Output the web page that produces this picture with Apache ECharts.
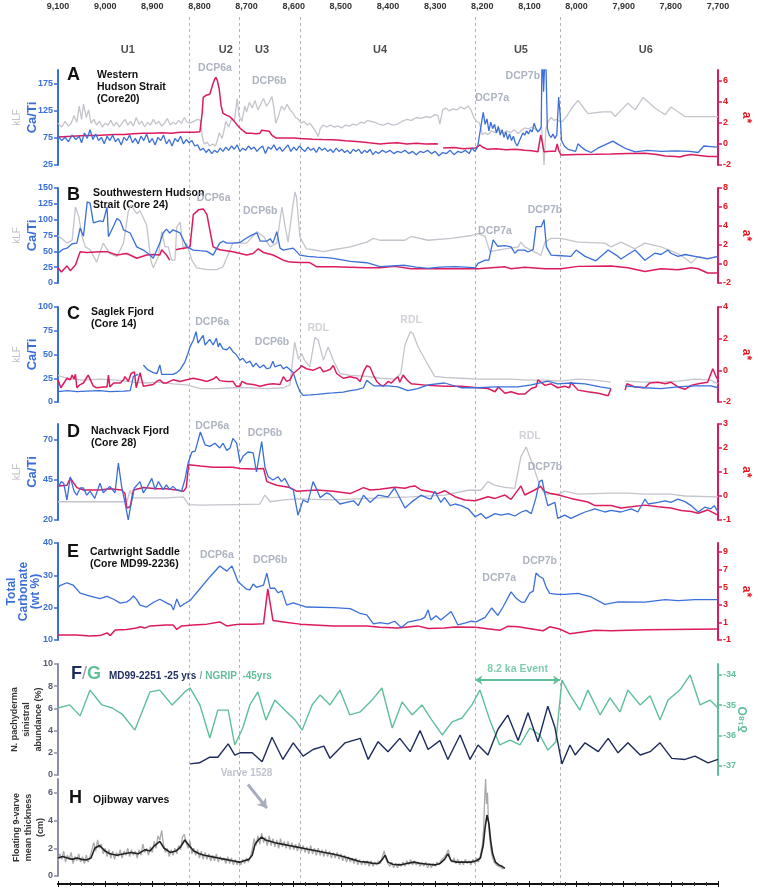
<!DOCTYPE html>
<html lang="en">
<head>
<meta charset="utf-8">
<title>Holocene records</title>
<script src="https://cdn.jsdelivr.net/npm/echarts@6/dist/echarts.min.js"></script>
<style>
  html, body { margin: 0; padding: 0; background: #fff; }
  #main { width: 758px; height: 890px; }
</style>
</head>
<body>
<div id="main"></div>
<script>
// ---- data (years BP on x) ----
const yearTicks = [9100, 9000, 8900, 8800, 8700, 8600, 8500, 8400, 8300, 8200, 8100, 8000, 7900, 7800, 7700];
const boundaries = [8822, 8716, 8587, 8215, 8035];
const unitLabels = [['U1', 8952], ['U2', 8744], ['U3', 8667], ['U4', 8417], ['U5', 8118], ['U6', 7853]];

// A: Western Hudson Strait (Core20)
const aCaTi = [[9100,78],[9092,70],[9085,76],[9078,68],[9070,80],[9062,72],[9055,78],[9050,66],[9044,84],[9038,74],[9032,90],[9026,72],[9020,82],[9014,70],[9008,76],[9002,64],[8996,78],[8990,70],[8984,80],[8978,68],[8972,74],[8966,62],[8960,76],[8954,70],[8948,80],[8942,66],[8936,74],[8930,64],[8924,78],[8918,70],[8912,82],[8906,66],[8900,74],[8894,62],[8888,76],[8882,70],[8876,80],[8870,64],[8864,72],[8858,60],[8852,74],[8846,68],[8840,78],[8834,64],[8828,72],[8822,66],[8816,70],[8810,60],[8804,62],[8798,52],[8792,56],[8786,48],[8780,54],[8774,46],[8768,52],[8762,48],[8756,56],[8750,50],[8744,58],[8738,52],[8732,60],[8726,54],[8720,62],[8714,50],[8708,56],[8702,52],[8696,60],[8690,54],[8684,58],[8678,50],[8672,56],[8666,60],[8660,46],[8654,58],[8648,54],[8642,62],[8636,52],[8630,58],[8624,50],[8618,56],[8612,62],[8606,50],[8600,58],[8594,52],[8588,60],[8582,54],[8576,50],[8570,58],[8564,52],[8558,56],[8552,48],[8546,58],[8540,52],[8534,56],[8528,50],[8522,54],[8516,48],[8510,56],[8504,50],[8498,54],[8492,48],[8486,52],[8480,46],[8474,54],[8468,50],[8462,54],[8456,46],[8450,52],[8444,48],[8438,54],[8432,44],[8426,50],[8420,46],[8412,52],[8404,48],[8396,52],[8388,46],[8380,50],[8372,48],[8364,52],[8356,46],[8348,50],[8340,44],[8332,50],[8324,48],[8316,52],[8308,46],[8300,50],[8292,42],[8284,48],[8276,46],[8268,52],[8260,44],[8252,50],[8244,48],[8236,52],[8228,46],[8222,56],[8216,50],[8210,58],[8204,90],[8198,122],[8194,100],[8190,110],[8186,88],[8182,104],[8178,92],[8174,100],[8170,84],[8166,96],[8162,80],[8158,90],[8154,76],[8150,86],[8146,72],[8142,82],[8138,70],[8134,78],[8130,66],[8126,60],[8122,58],[8118,76],[8114,84],[8110,80],[8106,88],[8102,82],[8098,90],[8094,86],[8090,102],[8086,92],[8082,86],[8078,90],[8075,96],[8073,250],[8070,160],[8066,250],[8062,92],[8058,80],[8054,76],[8050,82],[8046,74],[8042,80],[8038,150],[8035,120],[8032,70],[8026,60],[8018,54],[8010,52],[8002,50],[7997,64],[7990,58],[7980,52],[7969,48],[7955,56],[7940,62],[7923,69],[7910,62],[7895,55],[7876,49],[7850,52],[7820,50],[7790,51],[7760,50],[7742,48],[7730,60],[7715,59],[7700,58]];
const aKlf = [[9100,44],[9092,40],[9085,46],[9078,41],[9072,44],[9066,52],[9060,45],[9055,62],[9050,48],[9046,64],[9040,50],[9035,58],[9030,44],[9024,48],[9018,42],[9012,46],[9006,40],[9000,44],[8994,42],[8988,47],[8982,41],[8976,45],[8970,40],[8964,44],[8958,48],[8952,42],[8946,46],[8940,41],[8934,50],[8928,43],[8922,46],[8916,40],[8910,45],[8904,42],[8898,48],[8892,43],[8886,46],[8880,41],[8874,44],[8868,49],[8862,42],[8856,45],[8850,43],[8844,47],[8838,44],[8832,50],[8826,45],[8820,44],[8812,46],[8804,48],[8798,47],[8794,30],[8790,22],[8784,24],[8778,20],[8772,22],[8766,20],[8762,26],[8758,34],[8752,28],[8748,36],[8744,46],[8738,40],[8732,48],[8726,46],[8720,70],[8716,52],[8710,46],[8704,62],[8700,56],[8694,66],[8688,60],[8682,68],[8676,58],[8670,64],[8664,70],[8658,62],[8652,66],[8646,72],[8642,60],[8638,44],[8632,52],[8626,62],[8620,58],[8614,64],[8608,58],[8602,55],[8596,50],[8590,48],[8584,44],[8578,46],[8572,42],[8566,44],[8560,40],[8554,36],[8548,30],[8544,38],[8538,42],[8530,40],[8522,42],[8514,40],[8506,41],[8498,39],[8490,42],[8482,41],[8474,43],[8466,42],[8458,45],[8450,44],[8444,47],[8436,46],[8428,45],[8420,43],[8410,42],[8400,44],[8390,42],[8380,43],[8370,46],[8360,48],[8350,47],[8340,50],[8330,49],[8320,51],[8310,50],[8300,53],[8294,52],[8290,43],[8284,58],[8278,60],[8270,57],[8262,59],[8254,58],[8246,61],[8238,59],[8230,62],[8224,58],[8218,50],[8212,46],[8206,44],[8200,32],[8194,34],[8188,32],[8180,36],[8172,34],[8164,38],[8156,33],[8148,36],[8140,34],[8132,37],[8124,33],[8118,36],[8110,39],[8102,38],[8094,40],[8086,37],[8080,36],[8074,40],[8069,0],[8065,38],[8060,46],[8054,50],[8048,47],[8042,48],[8036,46],[8030,46],[8020,52],[8010,60],[7997,68],[7985,60],[7976,54],[7960,55],[7945,56],[7927,56],[7918,51],[7905,58],[7891,65],[7876,58],[7859,71],[7845,65],[7834,60],[7822,56],[7812,53],[7800,61],[7785,56],[7770,51],[7742,51],[7700,51]];
const aAstar = [[9100,0.65],[9080,0.7],[9060,0.75],[9040,0.8],[9020,0.8],[9000,0.85],[8980,0.9],[8960,0.9],[8940,0.95],[8920,1.0],[8900,1.0],[8880,1.05],[8860,1.0],[8840,1.1],[8826,1.1],[8810,1.1],[8799,1.15],[8794,3.0],[8792,4.4],[8786,4.6],[8778,4.7],[8772,5.6],[8768,6.1],[8765,6.3],[8762,6.0],[8758,5.2],[8754,3.6],[8750,2.9],[8742,2.7],[8736,2.6],[8729,2.3],[8720,1.8],[8714,1.5],[8706,1.2],[8700,1.0],[8690,1.0],[8680,0.95],[8672,1.0],[8668,1.3],[8660,1.25],[8652,1.2],[8646,0.8],[8637,0.55],[8620,0.55],[8600,0.55],[8587,0.5],[8560,0.45],[8540,0.42],[8516,0.4],[8490,0.3],[8460,0.2],[8440,0.1],[8417,0.0],[8400,0.05],[8380,0.1],[8360,0.0],[8340,0.05],[8320,0.0],[8300,0.02],[8294,0.0],[8290,'-'],[8283,-0.4],[8260,-0.35],[8240,-0.45],[8215,-0.4],[8205,-0.1],[8200,-0.3],[8190,-0.5],[8170,-0.45],[8150,-0.55],[8130,-0.5],[8110,-0.6],[8095,-0.65],[8082,-0.75],[8078,0.3],[8076,0.85],[8073,0.2],[8069,-0.75],[8055,-0.7],[8045,-0.7],[8041,0.0],[8038,-0.6],[8033,-1.05],[8000,-1.0],[7960,-0.98],[7927,-0.95],[7890,-0.9],[7855,-0.88],[7830,-1.0],[7812,-1.15],[7790,-1.2],[7781,-1.25],[7770,-1.1],[7757,-1.0],[7740,-1.1],[7720,-1.2],[7700,-1.2]];

// B: Southwestern Hudson Strait (Core 24)
const bCaTi = [[9100,47],[9090,53],[9081,55],[9070,62],[9060,63],[9053,87],[9046,74],[9038,128],[9032,126],[9025,95],[9011,98],[9004,97],[8996,120],[8993,73],[8982,90],[8975,102],[8968,98],[8961,84],[8947,79],[8933,57],[8919,52],[8906,45],[8898,39],[8884,63],[8877,79],[8870,85],[8863,79],[8856,84],[8841,79],[8827,57],[8813,52],[8799,51],[8784,50],[8771,44],[8757,63],[8750,66],[8742,63],[8729,63],[8714,64],[8700,71],[8688,76],[8678,79],[8671,66],[8657,66],[8650,70],[8644,63],[8636,81],[8629,55],[8622,52],[8615,53],[8601,55],[8587,44],[8570,42],[8551,41],[8530,40],[8516,39],[8480,34],[8445,32],[8417,26],[8390,27],[8364,28],[8340,25],[8315,23],[8290,25],[8258,26],[8235,25],[8215,24],[8209,31],[8194,36],[8186,36],[8177,68],[8167,58],[8152,59],[8139,57],[8131,47],[8124,52],[8110,52],[8103,49],[8092,53],[8086,89],[8075,89],[8069,100],[8064,57],[8054,44],[8033,43],[8012,42],[8001,52],[7982,42],[7959,35],[7933,52],[7912,42],[7906,38],[7876,52],[7855,36],[7834,47],[7821,45],[7806,52],[7800,47],[7785,42],[7770,45],[7749,42],[7722,38],[7700,42]];
const bKlf = [[9100,50],[9093,47],[9081,42],[9070,45],[9063,80],[9056,70],[9049,49],[9042,38],[9032,35],[9018,22],[9004,42],[8990,31],[8975,28],[8961,42],[8951,75],[8945,82],[8933,73],[8926,76],[8922,74],[8912,61],[8903,24],[8898,16],[8887,28],[8880,54],[8873,38],[8866,38],[8859,24],[8852,24],[8848,59],[8841,64],[8834,35],[8827,42],[8816,24],[8806,16],[8784,14],[8763,14],[8750,17],[8729,42],[8700,42],[8678,54],[8664,49],[8650,38],[8636,42],[8625,80],[8618,59],[8612,43],[8601,84],[8597,96],[8594,90],[8587,49],[8580,42],[8573,36],[8559,35],[8537,33],[8516,35],[8480,38],[8445,43],[8431,47],[8417,45],[8390,45],[8364,45],[8351,49],[8315,45],[8266,47],[8223,50],[8209,52],[8194,49],[8184,33],[8152,36],[8124,38],[8118,43],[8110,38],[8082,31],[8076,29],[8067,43],[8054,47],[8033,47],[7997,43],[7940,42],[7927,38],[7906,43],[7876,36],[7855,42],[7821,38],[7785,31],[7770,26],[7757,21],[7742,28],[7722,26],[7700,28]];
const bAstar = [[9100,-0.4],[9093,-0.85],[9081,-0.2],[9074,-0.7],[9063,-0.1],[9053,1.3],[9039,1.2],[9011,1.3],[8996,1.3],[8975,0.95],[8954,1.1],[8933,0.6],[8912,0.95],[8898,1.0],[8884,0.95],[8880,1.5],[8870,0.95],[8863,0.4],[8857,'-'],[8850,1.5],[8841,1.6],[8827,1.7],[8820,1.8],[8813,5.2],[8802,5.7],[8792,5.8],[8784,5.2],[8778,3.6],[8771,1.8],[8757,1.5],[8729,1.3],[8700,0.95],[8686,1.1],[8675,1.6],[8664,1.2],[8644,0.95],[8622,0.4],[8608,0.2],[8587,0.15],[8566,0.15],[8551,-0.3],[8516,-0.3],[8445,-0.4],[8417,-0.4],[8386,-0.25],[8351,-0.5],[8280,-0.5],[8209,-0.5],[8152,-0.3],[8139,-0.5],[8110,-0.35],[8067,-0.5],[8033,-0.5],[7997,-0.25],[7927,-0.2],[7891,-0.4],[7855,-0.8],[7821,-0.5],[7785,-0.6],[7757,-0.4],[7742,-0.5],[7722,-0.95],[7700,-0.95]];

// C: Saglek Fjord (Core 14)
const cCaTi = [[9100,11],[9080,12],[9060,11],[9040,11.5],[9011,12],[8990,11],[8960,11.5],[8947,12],[8943,20],[8940,27],[8930,29],[8922,'-'],[8919,39],[8910,34],[8898,31],[8890,30],[8887,29],[8884,39],[8880,29],[8870,29],[8856,29],[8848,31],[8841,34],[8831,42],[8825,50],[8820,58],[8813,65],[8807,74],[8803,62],[8798,66],[8792,70],[8788,60],[8784,61],[8778,66],[8771,60],[8767,64],[8764,67],[8760,58],[8757,62],[8750,56],[8742,55],[8736,58],[8729,53],[8722,50],[8714,44],[8708,46],[8700,41],[8693,43],[8686,37],[8680,41],[8672,36],[8664,39],[8657,35],[8650,36],[8644,43],[8640,37],[8636,37],[8628,39],[8622,35],[8615,37],[8608,34],[8601,31],[8594,20],[8587,11],[8580,7],[8565,7.5],[8551,8],[8530,9],[8516,9.5],[8495,10.5],[8480,12],[8465,13],[8452,15],[8445,23],[8438,20],[8430,17],[8421,17],[8400,17],[8379,16],[8358,12],[8337,14],[8315,18],[8280,20],[8245,15],[8209,15],[8173,16],[8124,16],[8096,18],[8061,22],[8040,19],[8012,20],[7982,19],[7950,16],[7927,14],[7918,'-'],[7897,17],[7855,15],[7821,14],[7785,16],[7749,17],[7715,17],[7700,15]];
const cKlf = [[9100,28],[9081,25],[9046,23],[9011,24],[8975,23],[8940,21],[8912,20],[8884,21],[8856,19],[8827,18],[8798,14],[8764,14],[8729,15],[8693,15],[8657,14],[8622,15],[8608,18],[8598,63],[8590,45],[8583,51],[8577,44],[8566,37],[8555,68],[8548,65],[8537,44],[8527,58],[8516,44],[8502,30],[8480,28],[8445,27],[8417,25],[8386,24],[8373,30],[8364,60],[8353,74],[8347,72],[8337,59],[8315,39],[8301,27],[8280,26],[8245,25],[8209,24],[8173,24],[8139,24],[8103,23],[8067,23],[8033,22],[7997,24],[7961,23],[7927,21],[7918,'-'],[7897,22],[7855,21],[7821,21],[7785,22],[7749,24],[7715,23],[7700,19]];
const cAstar = [[9100,-0.6],[9094,-1.1],[9081,-0.5],[9074,-0.6],[9070,-0.3],[9066,-0.55],[9063,-0.25],[9060,-1.1],[9053,-0.9],[9046,-0.8],[9040,-0.5],[9036,-0.3],[9032,-0.25],[9025,-1.0],[9018,-1.1],[9004,-1.05],[8996,-1.05],[8993,-0.3],[8990,-1.05],[8982,-0.8],[8975,-0.8],[8968,-0.8],[8961,-0.6],[8958,-0.4],[8951,-0.7],[8945,-0.2],[8938,-0.1],[8934,-1.1],[8926,-0.15],[8919,-1.0],[8898,-0.9],[8891,-0.7],[8887,-0.8],[8884,-0.6],[8877,-0.8],[8870,-0.8],[8863,-0.7],[8856,-0.6],[8841,-0.7],[8827,-0.6],[8813,-0.5],[8798,-0.6],[8784,-0.7],[8771,-0.55],[8764,-0.4],[8757,-0.65],[8742,-0.7],[8729,-0.7],[8722,-1.0],[8714,-1.0],[8710,-0.7],[8700,-0.85],[8686,-0.9],[8671,-1.0],[8657,-0.9],[8644,-0.85],[8629,-0.9],[8622,-0.4],[8615,-0.7],[8608,-0.6],[8601,-0.2],[8587,0.15],[8584,0.3],[8573,0.1],[8559,0.0],[8544,0.2],[8537,-0.1],[8523,0.05],[8516,0.3],[8509,-0.2],[8495,-0.5],[8480,-0.4],[8466,-0.5],[8459,-0.7],[8452,-0.1],[8445,0.3],[8438,0.2],[8431,-0.3],[8424,-0.7],[8417,-0.9],[8410,-1.0],[8400,-0.7],[8393,-0.8],[8386,-0.6],[8379,-0.4],[8375,-0.75],[8368,-0.3],[8360,-0.6],[8351,-0.85],[8315,-0.95],[8280,-1.0],[8245,-1.0],[8209,-1.1],[8188,-1.15],[8173,-1.35],[8166,-1.05],[8152,-1.45],[8139,-1.35],[8124,-1.5],[8110,-1.5],[8096,-1.15],[8086,-1.05],[8082,-0.6],[8067,-0.95],[8054,-0.85],[8040,-1.1],[8025,-1.0],[8015,-1.1],[8012,-0.75],[7997,-1.25],[7976,-1.35],[7954,-1.45],[7933,-1.6],[7927,-1.15],[7920,'-'],[7897,-1.25],[7893,-0.85],[7876,-1.05],[7855,-1.1],[7845,-0.8],[7827,-0.75],[7812,-0.85],[7800,-0.75],[7785,-1.05],[7770,-1.2],[7757,-0.95],[7742,-0.85],[7722,-0.75],[7711,0.1],[7704,-0.4],[7700,-0.6]];

// D: Nachvack Fjord (Core 28)
const dCaTi = [[9100,40],[9093,44],[9088,43],[9081,32.5],[9074,47],[9066,38],[9060,35.5],[9053,40],[9046,40],[9039,35.5],[9032,38],[9022,33.5],[9011,43],[9004,37],[8990,41],[8979,37],[8972,55.6],[8965,41],[8958,31],[8951,20],[8945,30],[8938,40],[8926,44],[8919,37],[8910,41],[8901,46],[8894,39],[8887,44],[8877,39],[8870,42],[8863,39],[8856,41],[8849,39],[8838,38],[8831,45],[8824,55.6],[8816,62.5],[8809,63],[8798,75],[8788,67],[8778,66],[8767,68],[8757,65],[8750,68],[8742,63.5],[8735,65],[8729,71],[8721,68],[8714,56],[8707,60],[8697,62.5],[8686,62],[8679,50],[8675,57],[8668,69],[8661,53],[8654,47],[8644,45],[8633,47],[8626,44],[8619,46],[8608,40],[8601,39],[8591,23],[8580,32.5],[8570,31],[8559,44],[8551,39],[8544,34],[8530,37],[8523,36],[8516,34],[8502,30],[8488,31],[8473,32],[8463,29],[8452,35.5],[8438,31],[8421,35.5],[8400,34.5],[8386,40],[8364,27.5],[8351,31],[8330,35.5],[8315,33.5],[8309,33],[8301,38],[8288,31],[8280,34],[8268,29],[8258,30],[8245,29],[8230,27],[8215,22],[8203,24],[8192,21],[8173,24],[8160,23],[8145,24],[8131,22.5],[8117,25],[8107,26],[8096,24],[8086,34],[8079,44],[8073,45],[8067,36],[8061,29],[8046,31],[8040,21],[8025,23],[8012,21],[7997,23],[7982,25],[7961,27],[7940,25],[7927,26],[7906,25],[7884,27],[7870,25],[7855,33],[7848,30],[7827,31],[7812,32],[7800,31],[7785,33],[7770,31.5],[7757,29],[7742,25],[7728,28],[7715,27],[7708,29],[7700,25]];
const dKlf = [[9100,19],[9000,19],[8954,19],[8947,31],[8940,23],[8870,23],[8834,24],[8823,16],[8798,15.5],[8729,16],[8672,16.5],[8661,26],[8650,19],[8622,21],[8587,22],[8516,21],[8417,23],[8351,24],[8280,26],[8230,31],[8203,31],[8188,40],[8173,36],[8152,34],[8131,33],[8118,66],[8107,76],[8089,52],[8079,37],[8067,27],[8054,27],[8038,27],[8025,30],[7997,27],[7927,28],[7891,28],[7855,27],[7800,27],[7770,25],[7700,24]];
const dAstar = [[9100,0.42],[9081,0.45],[9074,0.75],[9060,0.35],[9046,0.25],[9011,0.25],[8990,0.3],[8965,0.25],[8958,0.1],[8954,-0.5],[8947,-0.45],[8940,0.25],[8919,0.35],[8891,0.3],[8870,0.3],[8849,0.25],[8834,0.2],[8828,0.35],[8823,1.3],[8798,1.25],[8771,1.2],[8729,1.2],[8714,1.15],[8686,1.12],[8664,1.15],[8657,0.6],[8636,0.45],[8608,0.35],[8594,0.2],[8551,0.25],[8516,0.2],[8480,0.1],[8452,0.35],[8438,0.25],[8417,0.28],[8386,0.36],[8364,0.32],[8351,0.4],[8343,0.42],[8330,0.25],[8309,0.18],[8294,0.1],[8280,0.22],[8258,-0.03],[8237,-0.17],[8215,-0.2],[8188,-0.03],[8173,-0.1],[8152,0.04],[8139,-0.14],[8118,0.42],[8110,0.04],[8089,0.25],[8076,0.4],[8067,0.18],[8054,0.1],[8038,0.04],[8012,-0.1],[7976,-0.25],[7961,-0.4],[7927,-0.4],[7906,-0.5],[7884,-0.45],[7855,-0.38],[7827,-0.45],[7800,-0.5],[7778,-0.6],[7757,-0.65],[7742,-0.72],[7722,-0.58],[7700,-0.8]];

// E: Cartwright Saddle (Core MD99-2236)
const eCarb = [[9100,26.1],[9096,26.8],[9081,27.7],[9068,27],[9053,24.5],[9032,23.6],[9011,22.8],[8996,23.5],[8982,22.6],[8968,21.4],[8954,21.8],[8947,22.5],[8940,23.6],[8933,22.5],[8926,20.8],[8912,20.2],[8898,21.6],[8884,22.6],[8870,21.5],[8860,20.8],[8855,19.3],[8848,22.7],[8841,20.3],[8831,21.3],[8820,22.2],[8798,26],[8778,29.5],[8757,32.9],[8742,31.3],[8731,32.9],[8718,28],[8700,25.7],[8693,25.5],[8686,27.3],[8679,26.3],[8664,27],[8657,30.7],[8650,26],[8640,26],[8633,24.6],[8625,25.2],[8615,20.8],[8601,21.5],[8573,20.2],[8516,20],[8480,19.7],[8459,18.2],[8445,17.8],[8431,15],[8417,15.4],[8400,15],[8386,15.8],[8379,14.9],[8372,13.9],[8358,15.5],[8330,16.4],[8322,17],[8315,19.3],[8309,16.2],[8298,17.5],[8288,16.2],[8266,18.8],[8252,14.7],[8237,15.2],[8223,15.8],[8213,15.6],[8194,17],[8180,19.9],[8167,17.6],[8156,20.2],[8152,20.4],[8139,24.9],[8128,22.9],[8117,21.7],[8110,21.7],[8099,24.6],[8092,25.1],[8086,30.7],[8079,29.7],[8075,30],[8071,29],[8064,26.2],[8057,24.4],[8040,24.1],[8025,24.1],[7997,24.4],[7969,23.3],[7940,21],[7912,21.8],[7855,21.7],[7812,22.5],[7785,22.2],[7749,22.5],[7700,22.5]];
const eAstar = [[9100,-0.43],[9060,-0.43],[9032,-0.55],[9011,-0.5],[8996,-0.2],[8989,-0.5],[8979,0.13],[8954,0.2],[8933,0.35],[8926,0.5],[8916,0.35],[8905,0.6],[8870,0.7],[8856,0.7],[8848,0.2],[8838,0.6],[8813,0.7],[8784,0.8],[8757,1.05],[8742,0.6],[8729,0.7],[8714,0.8],[8686,0.8],[8664,0.85],[8655,4.8],[8644,1.2],[8622,1.05],[8587,0.8],[8516,0.6],[8445,0.6],[8417,0.45],[8379,0.36],[8337,0.6],[8315,0.3],[8280,0.36],[8258,0.47],[8215,0.45],[8163,0.1],[8146,0.55],[8124,0.5],[8071,0.05],[8057,0.5],[8036,0.25],[8014,-0.3],[7961,0.1],[7927,0.05],[7850,0.15],[7700,0.25]];

// F/G: MD99-2251 N. pachyderma (s) and NGRIP d18O
const fPachy = [[8820,1.0],[8800,1.1],[8778,1.6],[8761,1.6],[8739,2.8],[8725,1.8],[8714,2.0],[8688,2.0],[8667,1.2],[8646,3.4],[8623,1.4],[8601,2.9],[8580,1.7],[8559,2.3],[8536,2.6],[8523,1.5],[8491,2.9],[8459,3.3],[8442,1.4],[8421,3.0],[8400,2.1],[8375,3.3],[8353,2.1],[8332,4.0],[8315,2.3],[8290,3.1],[8273,1.4],[8247,3.6],[8226,1.4],[8209,2.7],[8188,1.8],[8167,4.1],[8146,5.4],[8124,3.1],[8103,5.6],[8082,3.0],[8061,6.2],[8046,4.3],[8031,1.0],[8014,2.7],[8003,1.8],[7982,2.9],[7954,2.1],[7933,3.3],[7912,2.0],[7891,2.9],[7865,1.8],[7844,2.1],[7823,2.9],[7798,1.5],[7770,1.4],[7749,1.7],[7721,1.1],[7700,1.4]];
const gNgrip = [[9100,-35.09],[9075,-34.99],[9053,-35.35],[9032,-34.5],[9007,-34.99],[8985,-35.09],[8964,-35.29],[8937,-35.82],[8905,-34.56],[8884,-34.5],[8858,-34.99],[8831,-34.56],[8820,-34.43],[8799,-34.99],[8778,-36.08],[8761,-35.16],[8739,-35.16],[8725,-36.31],[8708,-35.75],[8693,-34.99],[8676,-34.56],[8659,-35.49],[8640,-34.83],[8619,-35.16],[8597,-35.49],[8582,-35.82],[8561,-34.99],[8544,-34.66],[8523,-34.99],[8502,-34.5],[8481,-35.32],[8459,-35.22],[8434,-34.83],[8413,-34.43],[8391,-35.75],[8370,-34.89],[8349,-35.32],[8328,-34.99],[8307,-35.49],[8285,-35.98],[8264,-35.55],[8243,-35.42],[8222,-34.99],[8205,-34.5],[8184,-35.49],[8163,-36.31],[8141,-36.15],[8120,-36.31],[8099,-35.75],[8078,-35.98],[8061,-36.48],[8044,-36.21],[8031,-34.17],[8014,-34.66],[7993,-35.16],[7976,-34.5],[7950,-35.32],[7929,-34.76],[7908,-35.22],[7891,-34.5],[7865,-34.99],[7844,-34.69],[7823,-35.49],[7806,-34.83],[7781,-34.5],[7759,-34.0],[7738,-34.99],[7717,-34.83],[7700,-35.09]];

// H: Ojibway varves
const hRaw = [[9100,1.1],[9096,1.6],[9092,1.2],[9088,1.8],[9084,1.0],[9080,1.5],[9076,1.2],[9072,1.7],[9068,0.9],[9064,1.4],[9060,1.1],[9056,1.6],[9052,1.0],[9048,1.4],[9044,0.9],[9040,1.5],[9036,1.0],[9032,1.4],[9028,1.9],[9024,2.4],[9020,1.8],[9016,2.6],[9012,2.0],[9008,2.3],[9004,1.6],[9000,2.0],[8996,1.4],[8992,1.9],[8988,1.3],[8984,1.8],[8980,1.2],[8976,1.7],[8972,1.4],[8968,1.9],[8964,1.3],[8960,1.8],[8956,1.5],[8952,2.0],[8948,1.4],[8944,1.9],[8940,1.5],[8936,1.8],[8932,1.3],[8928,1.9],[8924,1.5],[8920,2.3],[8916,1.7],[8912,2.0],[8908,1.5],[8904,2.1],[8900,1.7],[8896,2.5],[8892,2.0],[8888,2.9],[8884,2.6],[8880,3.3],[8876,2.2],[8872,1.7],[8868,2.0],[8864,1.4],[8860,1.9],[8856,1.5],[8852,2.0],[8848,1.6],[8844,2.2],[8840,1.9],[8836,2.8],[8832,3.0],[8828,2.4],[8824,2.0],[8820,2.5],[8816,1.6],[8812,2.0],[8808,1.5],[8804,1.9],[8800,1.3],[8796,1.8],[8792,1.2],[8788,1.7],[8784,1.2],[8780,1.6],[8776,1.1],[8772,1.5],[8768,1.1],[8764,1.6],[8760,1.0],[8756,1.4],[8752,1.1],[8748,1.3],[8744,0.9],[8740,1.4],[8736,0.9],[8732,1.3],[8728,0.8],[8724,1.2],[8720,0.8],[8716,1.1],[8712,0.8],[8708,1.2],[8704,0.9],[8700,1.3],[8696,1.0],[8692,1.4],[8688,1.9],[8684,2.7],[8680,2.2],[8676,2.9],[8672,2.3],[8668,3.1],[8664,2.4],[8660,2.8],[8656,2.2],[8652,2.9],[8648,2.2],[8644,2.7],[8640,2.1],[8636,2.6],[8632,2.0],[8628,2.7],[8624,2.1],[8620,2.5],[8616,2.0],[8612,2.5],[8608,1.9],[8604,2.4],[8600,1.9],[8596,2.3],[8592,1.8],[8588,2.4],[8584,1.8],[8580,2.2],[8576,1.7],[8572,2.1],[8568,1.6],[8564,2.2],[8560,1.6],[8556,2.0],[8552,1.5],[8548,2.0],[8544,1.5],[8540,1.9],[8536,1.4],[8532,1.9],[8528,1.4],[8524,1.8],[8520,1.3],[8516,1.7],[8512,1.3],[8508,1.7],[8504,1.2],[8500,1.6],[8496,1.1],[8492,1.5],[8488,1.0],[8484,1.4],[8480,1.0],[8476,1.3],[8472,0.9],[8468,1.3],[8464,0.8],[8460,1.2],[8456,0.8],[8452,1.1],[8448,0.8],[8444,1.1],[8440,0.7],[8436,1.1],[8432,0.7],[8428,1.0],[8424,0.8],[8420,1.1],[8416,0.9],[8412,1.4],[8408,1.8],[8404,1.2],[8400,0.9],[8396,0.7],[8392,1.0],[8388,0.6],[8384,0.9],[8380,0.6],[8376,0.9],[8372,0.7],[8368,1.0],[8364,0.7],[8360,1.1],[8356,0.8],[8352,1.2],[8348,0.8],[8344,1.1],[8340,0.8],[8336,1.0],[8332,0.7],[8328,1.0],[8324,0.7],[8320,1.0],[8316,0.6],[8312,0.9],[8308,0.6],[8304,0.9],[8300,0.7],[8296,1.0],[8292,0.8],[8288,1.1],[8284,1.0],[8280,1.4],[8276,1.6],[8272,1.9],[8268,1.2],[8264,1.0],[8260,1.3],[8256,0.9],[8252,1.2],[8248,0.8],[8244,1.1],[8240,0.8],[8236,1.2],[8232,0.9],[8228,1.1],[8224,0.8],[8220,1.2],[8216,0.9],[8212,1.3],[8208,1.0],[8204,1.5],[8200,2.2],[8197,3.5],[8195,5.5],[8193,7.0],[8191,5.2],[8189,6.0],[8187,4.0],[8185,3.0],[8182,2.0],[8179,1.4],[8175,1.0],[8170,0.8],[8165,0.7],[8160,0.6],[8155,0.5]];
const hSmooth = [[9100,1.3],[9090,1.4],[9080,1.3],[9070,1.2],[9060,1.3],[9050,1.2],[9040,1.15],[9030,1.3],[9022,2.0],[9012,2.2],[9000,1.8],[8990,1.6],[8975,1.5],[8960,1.6],[8945,1.7],[8930,1.6],[8915,1.9],[8905,1.8],[8895,2.2],[8884,2.5],[8875,2.0],[8862,1.7],[8850,1.8],[8840,2.1],[8831,2.6],[8822,2.2],[8812,1.8],[8800,1.6],[8790,1.5],[8775,1.4],[8760,1.3],[8745,1.2],[8730,1.1],[8715,1.0],[8705,1.1],[8695,1.2],[8688,1.5],[8682,2.3],[8675,2.6],[8668,2.8],[8660,2.6],[8650,2.5],[8640,2.4],[8625,2.3],[8610,2.2],[8595,2.1],[8580,2.0],[8565,1.9],[8550,1.8],[8535,1.7],[8520,1.6],[8505,1.5],[8490,1.35],[8475,1.2],[8460,1.05],[8445,1.0],[8430,0.9],[8420,0.9],[8412,1.2],[8406,1.5],[8400,1.0],[8390,0.85],[8375,0.8],[8360,0.9],[8345,1.0],[8330,0.9],[8315,0.85],[8300,0.8],[8290,0.9],[8280,1.2],[8273,1.6],[8266,1.1],[8255,1.0],[8240,1.0],[8225,1.0],[8212,1.1],[8204,1.3],[8198,2.2],[8194,3.5],[8190,4.4],[8186,3.8],[8182,2.5],[8178,1.6],[8172,1.0],[8165,0.8],[8158,0.7],[8152,0.55]];

// panel annotations (name, year, value on the panel's left axis)
const aNotes = [['DCP6a', 8767, 204], ['DCP6b', 8652, 180], ['DCP7a', 8179, 148], ['DCP7b', 8114, 189]];
const bNotes = [['DCP6a', 8770, 134], ['DCP6b', 8671, 114], ['DCP7a', 8173, 82], ['DCP7b', 8067, 115]];
const cNotes = [['DCP6a', 8773, 84], ['DCP6b', 8646, 63]];
const cRdl = [['RDL', 8548, 78], ['RDL', 8351, 86]];
const dNotes = [['DCP6a', 8773, 78.7], ['DCP6b', 8661, 74], ['DCP7b', 8067, 53]];
const dRdl = [['RDL', 8099, 72.5]];
const eNotes = [['DCP6a', 8763, 36.3], ['DCP6b', 8650, 34.7], ['DCP7a', 8164, 29], ['DCP7b', 8078, 34.4]];

// ---- styling ----
const FONT = '"Liberation Sans", Arial, sans-serif';
const BLUE = '#3b6fd8', CRIM = '#dc1b5e', GRAY = '#c4c4cc', RED = '#e8141e';
const NAVY = '#1d2b5c', GREEN = '#5fbf98', NOTE = '#9aa0b2';

const grids = [], xAxes = [], yAxes = [], series = [];

function addGrid(top, height) {
    grids.push({ left: 58, right: 40, top: top, height: height, containLabel: false, outerBoundsMode: 'none' });
    const gi = grids.length - 1;
    xAxes.push({ gridIndex: gi, type: 'value', min: 7700, max: 9100, inverse: true, show: false });
    return { gi: gi, xi: xAxes.length - 1 };
}

function addY(gi, opt) {
    yAxes.push(Object.assign({ gridIndex: gi, type: 'value', splitLine: { show: false } }, opt));
    return yAxes.length - 1;
}

function sideAxis(gi, pos, color, labelColor, min, max, interval, extra) {
    return addY(gi, Object.assign({
        position: pos, min: min, max: max, interval: interval,
        axisLine: { show: true, lineStyle: { color: color, width: 2 } },
        axisTick: { show: true, length: 4, lineStyle: { color: color, width: 1.5 } },
        axisLabel: { color: labelColor, fontFamily: FONT, fontWeight: 'bold', fontSize: 9, margin: 5 },
        nameLocation: 'middle', nameMoveOverlap: false
    }, extra || {}));
}

function hiddenAxis(gi, min, max) {
    return addY(gi, { position: 'left', min: min, max: max, show: false });
}

function line(p, yi, data, color, width, z) {
    series.push({
        type: 'line', xAxisIndex: p.xi, yAxisIndex: yi, data: data,
        symbol: 'none', connectNulls: false, z: z || 2,
        lineStyle: { color: color, width: width || 1.3 }
    });
    return series[series.length - 1];
}

function notes(p, yi, list, color, size) {
    series.push({
        type: 'scatter', xAxisIndex: p.xi, yAxisIndex: yi, clip: false, symbolSize: 0, z: 5,
        data: list.map(n => ({ name: n[0], value: [n[1], n[2]] })),
        label: { show: true, position: 'inside', formatter: '{b}', color: color, fontFamily: FONT, fontWeight: 'bold', fontSize: size || 10.5 }
    });
}

function klfName(gap) {
    return {
        name: '{k|kLF}\n{c|Ca/Ti}', nameRotate: 90, nameGap: gap,
        nameTextStyle: { rich: {
            k: { color: '#c0c0c8', fontFamily: FONT, fontSize: 10, lineHeight: 14 },
            c: { color: BLUE, fontFamily: FONT, fontSize: 13, fontWeight: 'bold', lineHeight: 16 }
        } }
    };
}

function aName(gap) {
    return {
        name: 'a*', nameRotate: -90, nameGap: gap,
        nameTextStyle: { color: RED, fontFamily: FONT, fontSize: 12, fontWeight: 'bold' }
    };
}

function labelStyle(color, extra) {
    return { axisLabel: Object.assign({ color: color, fontFamily: FONT, fontWeight: 'bold', fontSize: 9, margin: 5 }, extra) };
}

// ---- frame grid: top axis, bottom axis, unit boundaries ----
grids.push({ left: 58, right: 40, top: 15, bottom: 6, containLabel: false, outerBoundsMode: 'none' });
xAxes.push({
    gridIndex: 0, type: 'value', position: 'top', min: 7700, max: 9100, interval: 100, inverse: true,
    axisLine: { show: true, lineStyle: { color: '#111', width: 2 } },
    axisTick: { show: true, inside: true, length: 3, lineStyle: { color: '#111' } },
    minorTick: { show: true, splitNumber: 4, length: 2, lineStyle: { color: '#333' } },
    axisLabel: {
        color: '#333', fontFamily: FONT, fontWeight: 'bold', fontSize: 9, margin: 4,
        formatter: v => yearTicks.indexOf(v) >= 0 ? String(v).replace(/\B(?=(\d{3})+$)/, ',') : ''
    },
    splitLine: { show: false }
});
xAxes.push({
    gridIndex: 0, type: 'value', position: 'bottom', min: 7700, max: 9100, interval: 100, inverse: true,
    axisLine: { show: true, lineStyle: { color: '#111', width: 2 } },
    axisTick: { show: true, inside: true, length: 3, lineStyle: { color: '#111' } },
    minorTick: { show: true, splitNumber: 4, length: 2, lineStyle: { color: '#333' } },
    axisLabel: { show: false },
    splitLine: { show: false }
});
yAxes.push({ gridIndex: 0, type: 'value', min: 0, max: 100, show: false });
series.push({
    type: 'scatter', xAxisIndex: 0, yAxisIndex: 0, symbolSize: 0, z: 1,
    data: unitLabels.map(u => ({ name: u[0], value: [u[1], 96] })),
    label: { show: true, position: 'inside', formatter: '{b}', color: '#222', fontFamily: FONT, fontWeight: 'bold', fontSize: 11 },
    markLine: {
        silent: true, symbol: ['none', 'none'], label: { show: false }, z: 0,
        lineStyle: { color: '#b4b4b4', type: [3, 3], width: 1 },
        data: boundaries.map(b => ({ xAxis: b }))
    }
});

// ---- A ----
const pA = addGrid(70, 95);
const aL = sideAxis(pA.gi, 'left', BLUE, BLUE, 25, 200, 50, Object.assign(labelStyle(BLUE, { showMaxLabel: false }), klfName(18)));
const aR = sideAxis(pA.gi, 'right', CRIM, RED, -2, 7, 2, Object.assign(labelStyle(RED, { showMaxLabel: false }), aName(22)));
const aK = hiddenAxis(pA.gi, 0, 100);
line(pA, aK, aKlf, GRAY, 1.3, 2);
line(pA, aR, aAstar, CRIM, 1.5, 3);
line(pA, aL, aCaTi, BLUE, 1.3, 4);
notes(pA, aL, aNotes, NOTE);

// ---- B ----
const pB = addGrid(188, 95);
const bL = sideAxis(pB.gi, 'left', BLUE, BLUE, 0, 150, 25, klfName(18));
const bR = sideAxis(pB.gi, 'right', CRIM, RED, -2, 8, 2, Object.assign(labelStyle(RED, {}), aName(22)));
const bK = hiddenAxis(pB.gi, 0, 100);
line(pB, bK, bKlf, GRAY, 1.3, 2);
line(pB, bR, bAstar, CRIM, 1.5, 3);
line(pB, bL, bCaTi, BLUE, 1.3, 4);
notes(pB, bL, bNotes, NOTE);

// ---- C ----
const pC = addGrid(307, 95);
const cL = sideAxis(pC.gi, 'left', BLUE, BLUE, 0, 100, 25, klfName(18));
const cR = sideAxis(pC.gi, 'right', CRIM, RED, -2, 4, 2, Object.assign(labelStyle(RED, {}), aName(22)));
const cK = hiddenAxis(pC.gi, 0, 100);
line(pC, cK, cKlf, GRAY, 1.3, 2);
line(pC, cR, cAstar, CRIM, 1.5, 3);
line(pC, cL, cCaTi, BLUE, 1.3, 4);
notes(pC, cL, cNotes, NOTE);
notes(pC, cL, cRdl, '#c6c6ce');

// ---- D ----
const pD = addGrid(424, 96);
const dL = sideAxis(pD.gi, 'left', BLUE, BLUE, 20, 80, 25, Object.assign(labelStyle(BLUE, { showMaxLabel: false }), klfName(18)));
const dR = sideAxis(pD.gi, 'right', CRIM, RED, -1, 3, 1, Object.assign(labelStyle(RED, {}), aName(22)));
const dK = hiddenAxis(pD.gi, 0, 100);
line(pD, dK, dKlf, GRAY, 1.3, 2);
line(pD, dR, dAstar, CRIM, 1.5, 3);
line(pD, dL, dCaTi, BLUE, 1.3, 4);
notes(pD, dL, dNotes, NOTE);
notes(pD, dL, dRdl, '#c6c6ce');

// ---- E ----
const pE = addGrid(543, 97);
const eL = sideAxis(pE.gi, 'left', BLUE, BLUE, 10, 40, 10, {
    name: 'Total\nCarbonate\n(wt %)', nameRotate: 90, nameGap: 16,
    nameTextStyle: { color: BLUE, fontFamily: FONT, fontSize: 12, fontWeight: 'bold', lineHeight: 12 }
});
const eR = sideAxis(pE.gi, 'right', CRIM, RED, -1, 10, 2, Object.assign(labelStyle(RED, { showMaxLabel: false }), aName(22)));
line(pE, eR, eAstar, CRIM, 1.5, 3);
line(pE, eL, eCarb, BLUE, 1.3, 4);
notes(pE, eL, eNotes, NOTE);

// ---- F/G ----
const pF = addGrid(664, 111);
const fL = sideAxis(pF.gi, 'left', '#8a8fa8', '#555a70', 0, 10, 2, {
    name: 'N. pachyderma\nsinistral\nabundance (%)', nameRotate: 90, nameGap: 13,
    nameTextStyle: { color: '#333', fontFamily: FONT, fontSize: 9, fontWeight: 'bold', lineHeight: 12 }
});
const fR = sideAxis(pF.gi, 'right', GREEN, GREEN, -37.3, -33.64, null, Object.assign(labelStyle(GREEN, { showMinLabel: false, showMaxLabel: false }), {
    name: 'δ¹⁸O', nameRotate: 90, nameGap: 20,
    nameTextStyle: { color: GREEN, fontFamily: FONT, fontSize: 12, fontWeight: 'bold' }
}));
const ng = line(pF, fR, gNgrip, GREEN, 1.4, 3);
ng.markLine = {
    silent: true, symbol: ['arrow', 'arrow'], symbolSize: 7, label: { show: false },
    lineStyle: { color: GREEN, width: 2, type: 'solid' },
    data: [[{ coord: [8215, -34.17] }, { coord: [8035, -34.17] }]]
};
line(pF, fL, fPachy, NAVY, 1.4, 4);
notes(pF, fR, [['8.2 ka Event', 8125, -33.8]], GREEN, 10.5);

// ---- H ----
const pH = addGrid(779, 97);
const hL = sideAxis(pH.gi, 'left', '#8a8fa8', '#555a70', 0, 7, 2, Object.assign(labelStyle('#555a70', { showMaxLabel: false }), {
    name: 'Floating 9-varve\nmean thickness\n(cm)', nameRotate: 90, nameGap: 11,
    nameTextStyle: { color: '#333', fontFamily: FONT, fontSize: 9, fontWeight: 'bold', lineHeight: 12 }
}));
line(pH, hL, hRaw, '#aaaaae', 1.3, 2);
const hs = line(pH, hL, hSmooth, '#222', 1.6, 3);
hs.markLine = {
    silent: true, symbol: ['none', 'arrow'], symbolSize: 9, label: { show: false },
    lineStyle: { color: '#a8acbc', width: 3, type: 'solid' },
    data: [[{ coord: [8697, 6.6] }, { coord: [8657, 4.9] }]]
};
notes(pH, hL, [['Varve 1528', 8700, 7.45]], '#b0b4c4', 10);

// ---- panel titles ----
function panelText(x, y, letter, text, tx, ty) {
    return [
        { type: 'text', left: x, top: y, style: { text: letter, font: 'bold 18px ' + FONT, fill: '#111' } },
        { type: 'text', left: tx, top: ty, style: { text: text, font: 'bold 10.5px ' + FONT, fill: '#111', lineHeight: 12 } }
    ];
}
const graphics = [].concat(
    panelText(67, 66, 'A', 'Western\nHudson Strait\n(Core20)', 97, 69),
    panelText(67, 186, 'B', 'Southwestern Hudson\nStrait (Core 24)', 93, 187),
    panelText(67, 305, 'C', 'Saglek Fjord\n(Core 14)', 91, 306),
    panelText(67, 423, 'D', 'Nachvack Fjord\n(Core 28)', 91, 425),
    panelText(67, 543, 'E', 'Cartwright Saddle\n(Core MD99-2236)', 90, 546),
    [{ type: 'text', left: 71, top: 665, style: {
        text: '{f|F}{s|/}{g|G}',
        rich: { f: { font: 'bold 18px ' + FONT, fill: NAVY }, s: { font: '18px ' + FONT, fill: '#9a9aa6' }, g: { font: 'bold 18px ' + FONT, fill: GREEN } } } },
     { type: 'text', left: 109, top: 670, style: {
        text: '{n|MD99-2251 -25 yrs} {s|/ }{g|NGRIP  -45yrs}',
        rich: { n: { font: 'bold 10px ' + FONT, fill: NAVY }, s: { font: 'bold 10px ' + FONT, fill: '#9a9aa6' }, g: { font: 'bold 10px ' + FONT, fill: GREEN } } } }],
    panelText(69, 789, 'H', 'Ojibway varves', 93, 794)
);

const chart = echarts.init(document.getElementById('main'), null, { renderer: 'canvas' });
chart.setOption({
    animation: false,
    backgroundColor: '#ffffff',
    grid: grids,
    xAxis: xAxes,
    yAxis: yAxes,
    series: series,
    graphic: graphics
});
</script>
</body>
</html>
